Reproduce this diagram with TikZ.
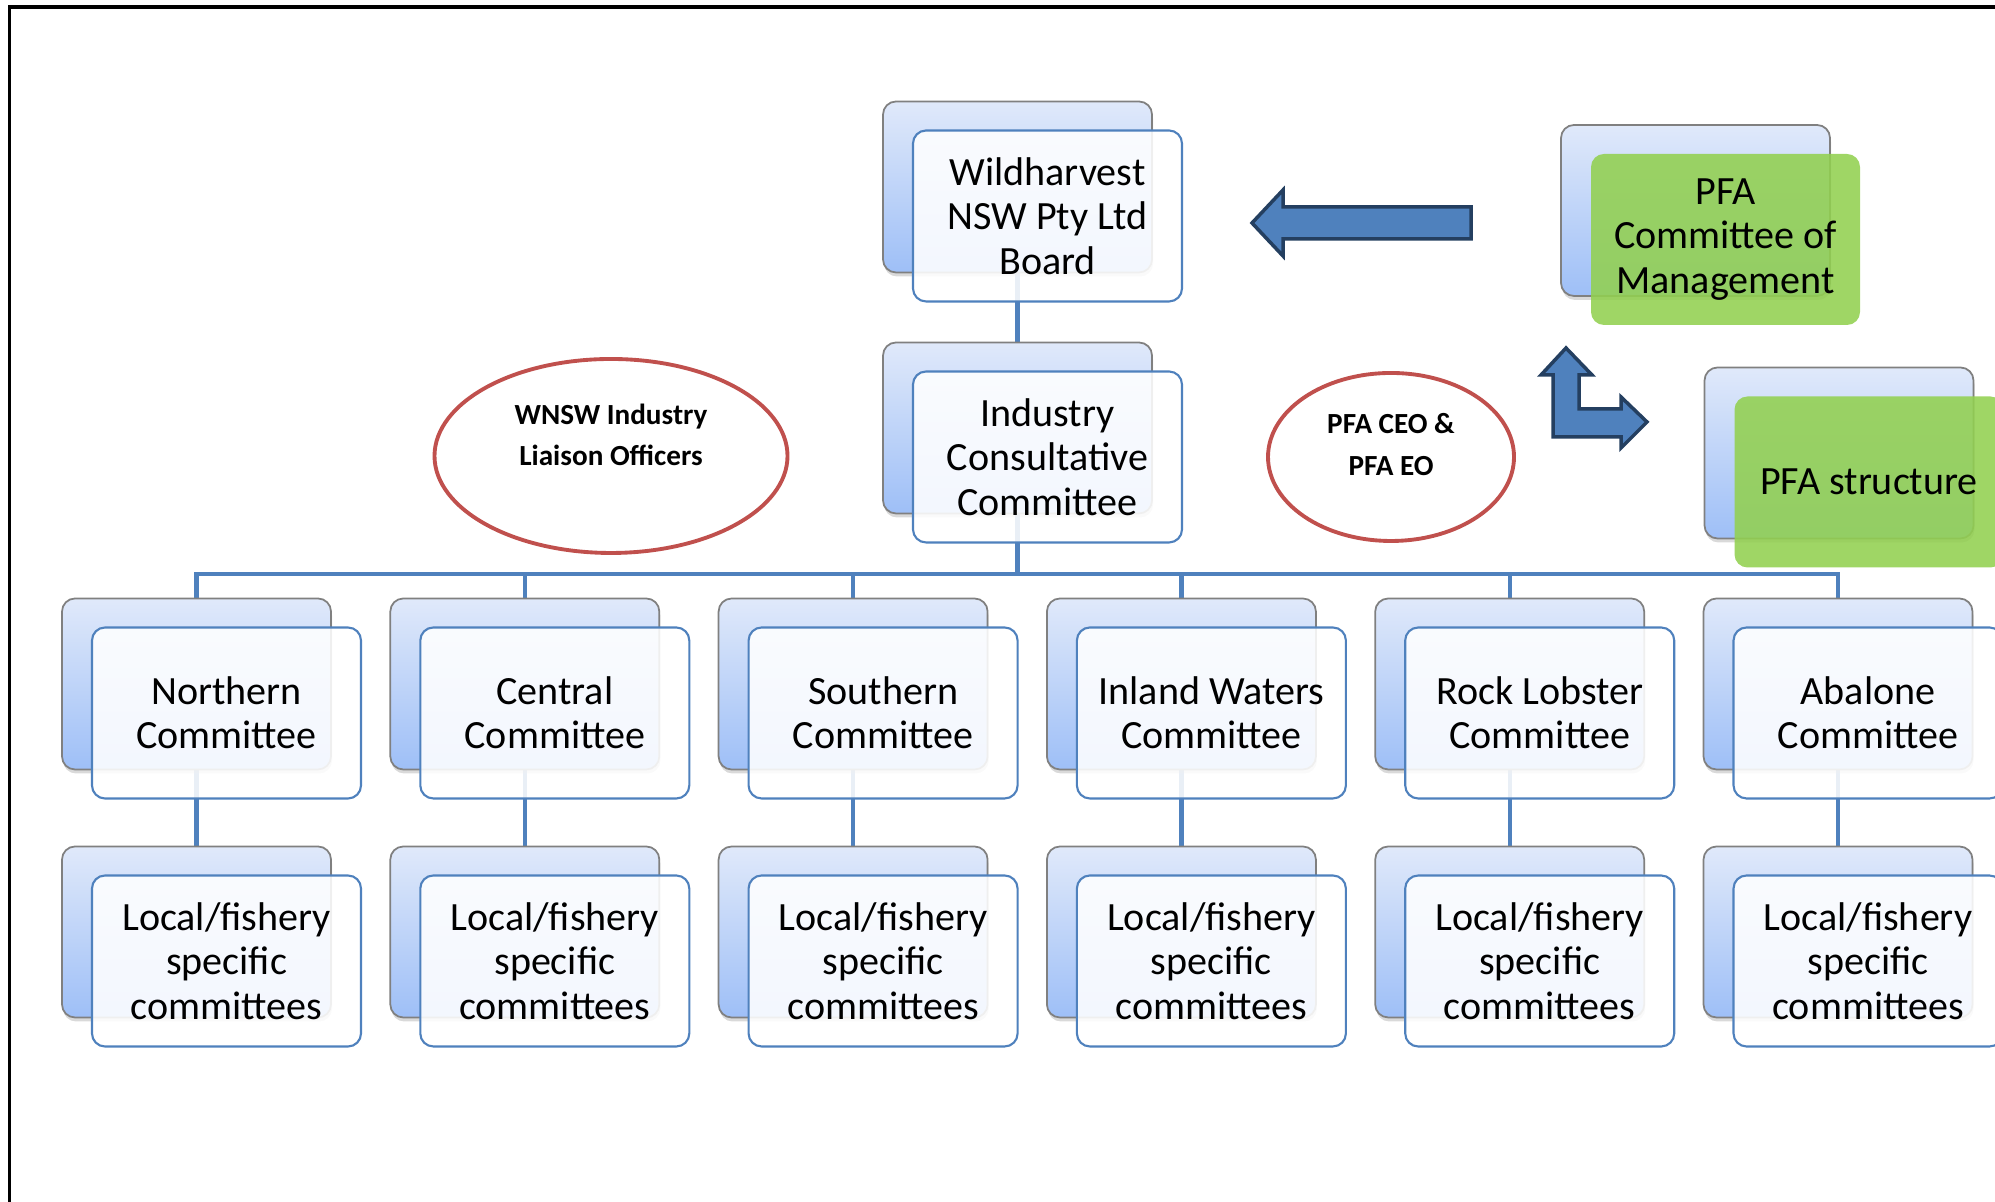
\documentclass[tikz,border=0pt]{standalone}
\usepackage{fontspec}
\setmainfont{Carlito}
\usetikzlibrary{shapes.geometric,shadows,backgrounds}

\definecolor{boxline}{RGB}{79,129,189}
\definecolor{backtop}{RGB}{224,233,250}
\definecolor{backbot}{RGB}{158,191,247}
\definecolor{pfagreen}{RGB}{146,208,80}
\definecolor{ovalred}{RGB}{192,80,77}
\definecolor{arrowline}{RGB}{36,63,96}

\tikzset{
  back/.style={draw=gray, line width=0.5pt, rounded corners=0.13cm,
    top color=backtop, bottom color=backbot,
    minimum width=2.69cm, minimum height=1.71cm,
    drop shadow={opacity=0.3, shadow xshift=0.01cm, shadow yshift=-0.04cm}},
  front/.style={draw=boxline, line width=0.6pt, rounded corners=0.13cm,
    fill=white, fill opacity=0.88, text opacity=1,
    minimum width=2.69cm, minimum height=1.71cm, inner sep=0pt,
    align=center, font=\fontsize{11.4}{12.6}\selectfont},
  pfabox/.style={front, draw=none, fill=pfagreen},
  oval/.style={ellipse, draw=ovalred, line width=1.1pt, inner sep=0pt,
    align=center, font=\bfseries\fontsize{8.3}{11.7}\selectfont},
  link/.style={draw=boxline, line width=1.2pt},
  bigarrow/.style={fill=boxline, draw=arrowline, line width=1pt}
}

\begin{document}
\begin{tikzpicture}
  \useasboundingbox (0,0) rectangle (19.95,12.02);
  % page frame
  \draw[line width=0.9pt] (0.095,0) -- (0.095,11.95) -- (19.95,11.95);

  % board and consultative committee
  \node[back] (boardb) at (10.175,10.15) {};
  \node[front] (board) at ([xshift=0.3cm,yshift=-0.29cm]boardb.center) {Wildharvest\\NSW Pty Ltd\\Board};
  \node[back] (iccb) at (10.175,7.74) {};
  \node[front] (icc) at ([xshift=0.3cm,yshift=-0.29cm]iccb.center) {Industry\\Consultative\\Committee};

  % PFA side
  \node[back] (comb) at (16.955,9.915) {};
  \node[pfabox] (com) at ([xshift=0.3cm,yshift=-0.29cm]comb.center) {PFA\\Committee of\\Management};
  \node[back] (pfab) at (18.39,7.49) {};
  \node[pfabox] (pfa) at ([xshift=0.3cm,yshift=-0.29cm]pfab.center) {PFA structure};

  \node[oval, minimum width=3.53cm, minimum height=1.94cm, text depth=0.42cm] (wnsw) at (6.11,7.46) {WNSW Industry\\Liaison Officers};
  \node[oval, minimum width=2.46cm, minimum height=1.68cm, text depth=0.25cm] (ceo) at (13.91,7.45) {PFA CEO \&\\PFA EO};

  % committees and their local committees
  \foreach \n/\t [count=\i from 0] in {north/Northern, cent/Central, south/Southern,
      inland/Inland Waters, rock/Rock Lobster, abal/Abalone} {
    \node[back] (\n-b) at (1.965+3.283*\i,5.18) {};
    \node[front] (\n) at ([xshift=0.3cm,yshift=-0.29cm]\n-b.center) {\t\\Committee};
    \node[back] (\n-lb) at (1.965+3.283*\i,2.70) {};
    \node[front] (\n-l) at ([xshift=0.3cm,yshift=-0.29cm]\n-lb.center) {Local/fishery\\specific\\committees};
  }

  \begin{scope}[on background layer]
    \draw[link] (boardb) -- (iccb);
    \foreach \n in {north,cent,south,inland,rock,abal} {
      \draw[link] (iccb.south) -- ++(0,-0.6) -| (\n-b.north);
      \draw[link] (\n-b) -- (\n-lb);
    }
  \end{scope}

  % block arrows
  \draw[bigarrow] (12.52,9.79) -- (12.83,10.12) -- (12.83,9.95) -- (14.71,9.95)
    -- (14.71,9.63) -- (12.83,9.63) -- (12.83,9.46) -- cycle;
  \draw[bigarrow] (15.66,8.54) -- (15.92,8.27) -- (15.79,8.27) -- (15.79,7.93)
    -- (16.21,7.93) -- (16.21,8.05) -- (16.47,7.80) -- (16.21,7.54) -- (16.21,7.65)
    -- (15.53,7.65) -- (15.53,8.27) -- (15.41,8.27) -- cycle;
\end{tikzpicture}
\end{document}
